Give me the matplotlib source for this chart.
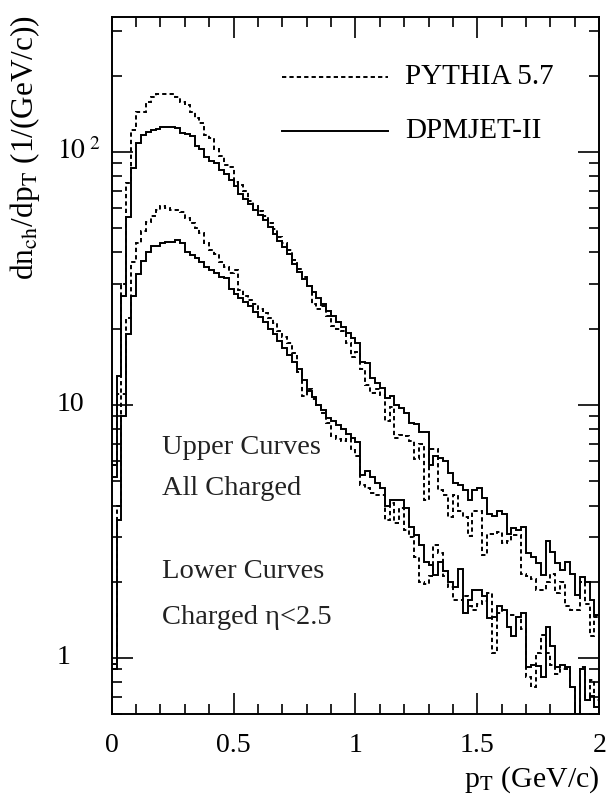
import numpy as np
import matplotlib.pyplot as plt
from matplotlib.ticker import MultipleLocator, LogLocator, NullFormatter, FuncFormatter

plt.rcParams['font.family'] = ['Liberation Serif', 'DejaVu Serif']
plt.rcParams['mathtext.fontset'] = 'stix'

# 100 bins of 0.02 GeV/c between 0 and 2
pt_edges = np.linspace(0.0, 2.0, 101)

# all charged particles
dpmjet_all = [
    5.2, 13, 27, 55, 86, 108, 116, 120, 122, 123,
    125, 125, 125, 124, 118.5, 118, 115.5, 105.5, 103, 95,
    92, 90, 85, 82, 77.5, 73, 68, 65, 62, 59,
    56.5, 53.8, 50.5, 47.5, 44.5, 42, 39.5, 36, 33.5, 31.5,
    29.5, 28, 26.5, 25, 23.5, 22.5, 21.3, 20.3, 19.3, 18.4,
    17.5, 14.8, 14.6, 12.8, 12.2, 11.65, 10.6, 10.8, 10.0, 9.7,
    9.25, 8.5, 8.4, 7.8, 7.8, 5.8, 6.25, 6.15, 6.0, 5.4,
    4.9, 4.8, 4.6, 4.2, 4.6, 4.7, 4.3, 3.7, 3.65, 3.8,
    3.7, 3.1, 3.25, 3.2, 3.3, 2.6, 2.5, 2.38, 2.13, 2.9,
    2.63, 2.38, 2.23, 2.4, 2.15, 1.78, 2.08, 2.0, 1.7, 1.48,
]
pythia_all = [
    5.8, 11, 30, 75, 122, 144, 144, 158, 165, 169,
    169, 169, 169, 165, 158, 153, 144, 136, 130, 116.6,
    113, 103, 96, 89, 87, 76, 74, 70, 64, 61,
    58.5, 56, 52.5, 49.5, 46, 43.5, 41, 37.5, 34.5, 32,
    29.5, 25, 24, 24.5, 22.5, 20.5, 20, 19.5, 17.5, 15.5,
    16.1, 13.8, 12.0, 11.1, 11.5, 10.9, 8.6, 9.8, 7.4, 7.6,
    7.5, 7.2, 6.1, 7.0, 4.2, 6.7, 6.7, 4.6, 4.4, 3.6,
    4.4, 3.8, 3.6, 3.04, 3.8, 3.8, 2.55, 3.1, 3.1, 3.15,
    2.85, 2.9, 3.05, 3.05, 2.15, 2.1, 2.05, 1.86, 1.85, 2.0,
    2.15, 1.8, 2.0, 1.6, 1.55, 1.55, 2.0, 1.63, 1.22, 1.45,
]

# charged particles with eta < 2.5
dpmjet_eta = [
    0.9, 3.5, 9, 19, 27, 33, 37, 40, 42.5, 42.5,
    43.5, 44.2, 44.2, 44.9, 43.5, 40.3, 39.1, 38.0, 36.8, 35.2,
    34.2, 33.1, 32.1, 31.7, 28.7, 27.5, 26.5, 25.5, 24.5, 23.3,
    22.3, 21.3, 20, 19, 17.8, 16.8, 15.8, 14.8, 13.8, 12.5,
    11.3, 10.7, 10.0, 9.5, 8.9, 8.6, 8.3, 8.0, 7.7, 7.4,
    7.1, 5.3, 5.5, 5.2, 4.9, 4.7, 3.97, 4.2, 4.2, 4.2,
    3.9, 3.3, 3.05, 2.8, 2.4, 2.33, 2.13, 2.4, 2.2, 2.0,
    1.9, 2.25, 1.5, 1.7, 1.86, 1.85, 1.76, 1.44, 1.45, 1.6,
    1.55, 1.32, 1.22, 1.45, 1.5, 0.92, 0.94, 0.93, 0.84, 1.32,
    1.11, 0.92, 0.94, 0.92, 0.77, 0.55, 0.9, 0.68, 0.71, 0.64,
]
pythia_eta = [
    0.95, 4, 11, 22, 36.8, 43.5, 48.8, 52.9, 55.5, 58.9,
    60.8, 59.8, 58.9, 58.9, 57.9, 54.7, 52.2, 49.8, 47.6, 43.5,
    40.9, 39.6, 36.8, 35.2, 33.1, 34, 28.5, 27, 26, 25,
    24, 23, 22, 21, 19.5, 18.5, 17.5, 16, 13.5, 10.8,
    11.5, 10.5, 10, 9.3, 8.5, 7.5, 7.3, 7.2, 7.3, 6.6,
    6.3, 4.8, 4.7, 4.5, 4.4, 4.4, 3.5, 4.1, 3.4, 3.9,
    3.2, 3.0, 2.5, 2.0, 1.95, 2.1, 2.8, 2.6, 2.1, 1.9,
    1.7, 1.7, 1.75, 1.6, 1.55, 1.63, 1.68, 1.8, 1.05, 1.5,
    1.55, 1.48, 1.48, 1.45, 1.3, 0.84, 0.77, 1.05, 1.23, 1.05,
    0.94, 0.86, 0.9, 0.9, 0.77, 0.58, 0.92, 0.68, 0.82, 0.68,
]

y_major = [1, 10, 100]
y_major_labels = ['1', '10', r'$10^{\ 2}$']

dash = (0, (2.2, 1.6))
lw = 1.4

fig = plt.figure(figsize=(6.09, 8.01), dpi=100)
ax = fig.add_axes([0.1834, 0.1086, 0.8006, 0.8698])

ax.stairs(pythia_all, pt_edges, color='black', lw=lw, linestyle=dash, baseline=None)
ax.stairs(dpmjet_all, pt_edges, color='black', lw=lw, baseline=None)
ax.stairs(pythia_eta, pt_edges, color='black', lw=lw, linestyle=dash, baseline=None)
ax.stairs(dpmjet_eta, pt_edges, color='black', lw=lw, baseline=None)

ax.set_yscale('log')
ax.set_xlim(0, 2)
ax.set_ylim(0.6, 340)

ax.xaxis.set_major_locator(MultipleLocator(0.5))
ax.xaxis.set_minor_locator(MultipleLocator(0.1))
ax.xaxis.set_major_formatter(FuncFormatter(lambda v, p: f'{v:g}'))
ax.yaxis.set_major_locator(LogLocator(base=10, subs=[1.0]))
ax.yaxis.set_minor_locator(LogLocator(base=10, subs=np.arange(2, 10)))
ax.yaxis.set_major_formatter(NullFormatter())
ax.yaxis.set_minor_formatter(NullFormatter())

ax.tick_params(which='both', direction='in', top=True, right=True, width=1.2, colors='black')
ax.tick_params(which='major', length=15)
ax.tick_params(which='minor', length=7.5)
ax.tick_params(axis='x', labelsize=20, pad=14)
for s in ax.spines.values():
    s.set_linewidth(1.4)

# y tick labels, left aligned like the original axis
for v, lab in zip(y_major, y_major_labels):
    ax.text(-0.112, v, lab, transform=ax.get_yaxis_transform(), ha='left', va='center', fontsize=20)

ax.set_xlabel(r'p$_{\mathrm{T}}$ (GeV/c)', fontsize=21.5, loc='right')
ax.xaxis.set_label_coords(1.0, -0.072)
ax.xaxis.label.set_va('top')
ax.set_ylabel(r'dn$_{\mathrm{ch}}$/dp$_{\mathrm{T}}$ (1/(GeV/c))', fontsize=22.5, loc='top')
ax.yaxis.set_label_coords(-0.142, 1.003)

# legend drawn as line samples with labels
for yy, style, name in [(0.914, dash, 'PYTHIA 5.7'), (0.837, '-', 'DPMJET-II')]:
    ax.plot([0.349, 0.567], [yy, yy], transform=ax.transAxes, color='black', lw=lw, linestyle=style)
    ax.text(0.6015, yy, name, transform=ax.transAxes, ha='left', va='center', fontsize=21)

notes = [(0.383, 'Upper Curves'), (0.324, 'All Charged'),
         (0.204, 'Lower Curves'), (0.138, 'Charged \u03b7<2.5')]
for yy, t in notes:
    ax.text(0.103, yy, t, transform=ax.transAxes, ha='left', va='center', fontsize=20.5, color='#222222')

fig.savefig('out.png', dpi=100)
